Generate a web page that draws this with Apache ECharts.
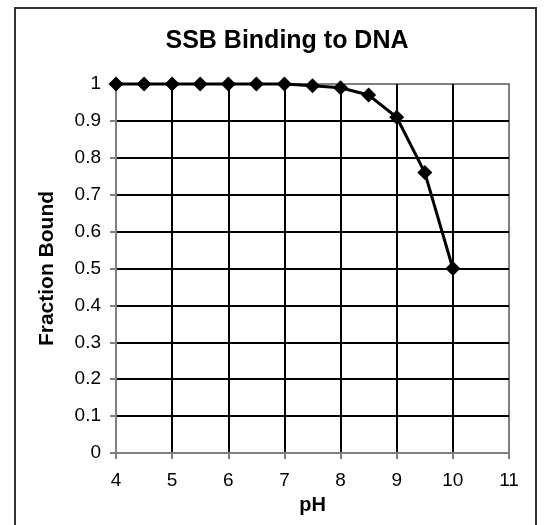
<!DOCTYPE html>
<html>
<head>
<meta charset="utf-8">
<script src="https://cdn.jsdelivr.net/npm/echarts@6/dist/echarts.min.js"></script>
<style>
html,body{margin:0;padding:0;background:#fff;}
#chart{width:545px;height:525px;}
</style>
</head>
<body>
<div id="chart"></div>
<script>
const pH = [4, 4.5, 5, 5.5, 6, 6.5, 7, 7.5, 8, 8.5, 9, 9.5, 10];
const fractionBound = [1, 1, 1, 1, 1, 1, 1, 0.995, 0.99, 0.97, 0.91, 0.76, 0.5];
const titleText = 'SSB Binding to DNA';
const xName = 'pH';
const yName = 'Fraction Bound';

const chart = echarts.init(document.getElementById('chart'), null, {renderer: 'canvas'});
const font = 'Liberation Sans, Arial, sans-serif';
chart.setOption({
  animation: false,
  backgroundColor: '#fff',
  graphic: [{
    type: 'rect',
    shape: {x: 15, y: 8, width: 521, height: 530},
    style: {fill: 'none', stroke: '#333', lineWidth: 2},
    silent: true
  }, {
    type: 'text',
    x: 287, y: 29,
    style: {
      text: titleText, fontFamily: font, fontSize: 25, fontWeight: 'bold',
      fill: '#000', textAlign: 'center', textVerticalAlign: 'top'
    },
    silent: true
  }],
  grid: {
    left: 116, right: 36, top: 84, bottom: 72,
    show: true, borderColor: '#808080', borderWidth: 2, backgroundColor: 'transparent'
  },
  xAxis: {
    type: 'value', min: 4, max: 11, interval: 1,
    name: xName, nameLocation: 'middle', nameGap: 42,
    nameTextStyle: {fontFamily: font, fontSize: 20, fontWeight: 'bold', color: '#000'},
    axisLine: {show: true, lineStyle: {color: '#808080', width: 2}},
    axisTick: {show: true, length: 6, lineStyle: {color: '#808080', width: 2}},
    axisLabel: {fontFamily: font, fontSize: 19, color: '#000', margin: 18},
    splitLine: {show: true, showMinLine: false, showMaxLine: false, lineStyle: {color: '#000', width: 2}}
  },
  yAxis: {
    type: 'value', min: 0, max: 1, interval: 0.1,
    name: yName, nameLocation: 'middle', nameGap: 58, nameRotate: 90,
    nameTextStyle: {fontFamily: font, fontSize: 21, fontWeight: 'bold', color: '#000'},
    axisLine: {show: true, lineStyle: {color: '#808080', width: 2}},
    axisTick: {show: true, length: 6, lineStyle: {color: '#808080', width: 2}},
    axisLabel: {fontFamily: font, fontSize: 19, color: '#000', margin: 15},
    splitLine: {show: true, showMinLine: false, showMaxLine: false, lineStyle: {color: '#000', width: 2}}
  },
  series: [{
    type: 'line',
    data: pH.map((x, i) => [x, fractionBound[i]]),
    symbol: 'diamond', symbolSize: 15,
    itemStyle: {color: '#000'},
    lineStyle: {color: '#000', width: 3},
    clip: false
  }]
});
</script>
</body>
</html>
